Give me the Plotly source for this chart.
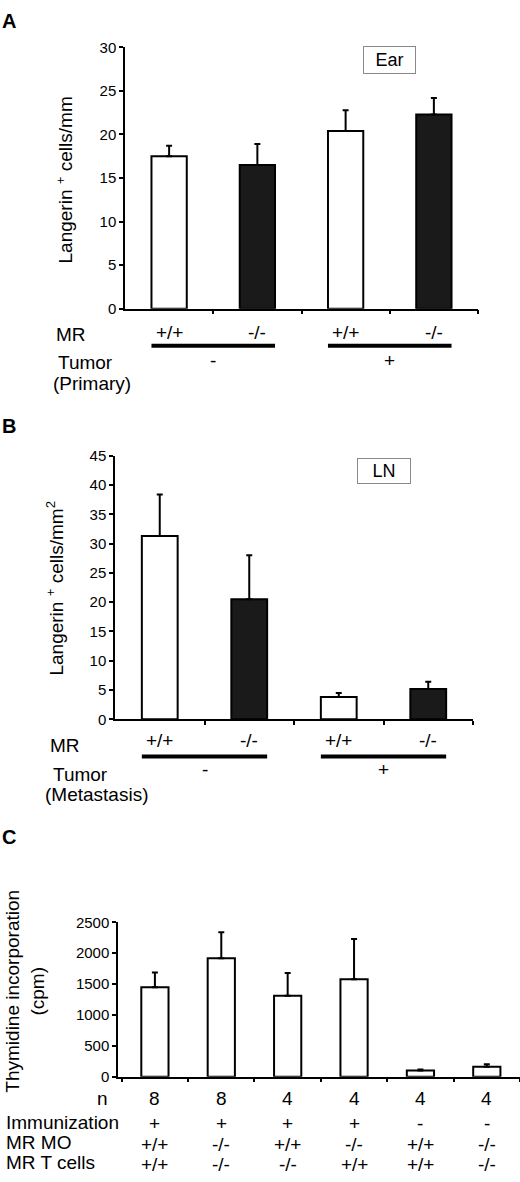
import plotly.graph_objects as go

W, H = 520, 1182
FONT = "Arial, Liberation Sans, sans-serif"

# ---- panel A: ear, primary tumor ----
a_mr = ["+/+", "-/-", "+/+", "-/-"]
a_tumor = ["-", "+"]
a_mean = [17.5, 16.5, 20.4, 22.3]
a_err = [1.2, 2.4, 2.4, 1.9]
a_ticks = [0, 5, 10, 15, 20, 25, 30]

# ---- panel B: lymph node, metastasis ----
b_mr = ["+/+", "-/-", "+/+", "-/-"]
b_tumor = ["-", "+"]
b_mean = [31.3, 20.5, 3.8, 5.2]
b_err = [7.1, 7.5, 0.7, 1.2]
b_ticks = [0, 5, 10, 15, 20, 25, 30, 35, 40, 45]

# ---- panel C: thymidine incorporation ----
c_n = ["8", "8", "4", "4", "4", "4"]
c_immun = ["+", "+", "+", "+", "-", "-"]
c_mo = ["+/+", "-/-", "+/+", "-/-", "+/+", "-/-"]
c_tcell = ["+/+", "-/-", "-/-", "+/+", "+/+", "-/-"]
c_mean = [1450, 1920, 1310, 1580, 100, 160]
c_err = [240, 420, 370, 650, 15, 40]
c_ticks = [0, 500, 1000, 1500, 2000, 2500]


def px(x):
    return x / W


def py(y):
    return 1 - y / H


def fills(geno):
    return ["#1a1a1a" if g == "-/-" else "white" for g in geno]


fig = go.Figure()

panels = [
    ("", a_mean, a_err, fills(a_mr)),
    ("2", b_mean, b_err, fills(b_mr)),
    ("3", c_mean, c_err, ["white"] * len(c_mean)),
]
for ax, mean, err, col in panels:
    fig.add_trace(go.Bar(
        x=list(range(len(mean))), y=mean, width=0.4 if ax != "3" else 0.41,
        marker=dict(color=col, line=dict(color="black", width=2)),
        error_y=dict(type="data", array=err, arrayminus=[0] * len(err), symmetric=False,
                     color="black", thickness=2, width=3),
        xaxis="x" + ax, yaxis="y" + ax, showlegend=False, hoverinfo="skip",
    ))

axis_common = dict(showgrid=False, zeroline=False, showline=True, linecolor="black",
                   linewidth=1.5, ticks="outside", ticklen=4, tickcolor="black", tickwidth=1.5)
tickfont = dict(family=FONT, size=15, color="black")

fig.update_layout(
    width=W, height=H, margin=dict(l=0, r=0, t=0, b=0),
    paper_bgcolor="white", plot_bgcolor="white",
    xaxis=dict(domain=[px(125), px(478)], range=[-0.5, 3.5], tickvals=[0.5, 1.5, 2.5, 3.5],
               showticklabels=False, anchor="y", **axis_common),
    yaxis=dict(domain=[py(304), py(39)], range=[0, 30], tickvals=a_ticks, tickfont=tickfont,
               anchor="x", **axis_common),
    xaxis2=dict(domain=[px(115), px(473)], range=[-0.5, 3.5], tickvals=[0.5, 1.5, 2.5, 3.5],
                showticklabels=False, anchor="y2", **axis_common),
    yaxis2=dict(domain=[py(720.7), py(453.3)], range=[0, 45], tickvals=b_ticks, tickfont=tickfont,
                anchor="x2", **axis_common),
    xaxis3=dict(domain=[px(118), 1.0], range=[-0.556, 5.5],
                tickvals=[-0.5, 0.5, 1.5, 2.5, 3.5, 4.5, 5.5],
                showticklabels=False, anchor="y3", **axis_common),
    yaxis3=dict(domain=[py(1083.3), py(926.7)], range=[0, 2500], tickvals=c_ticks, tickfont=tickfont,
                anchor="x3", **axis_common),
)

ann = []
shapes = []


def txt(text, x, y, size=19, xref="paper", xanchor="center", **kw):
    ann.append(dict(text=text, x=x, y=py(y), xref=xref, yref="paper", showarrow=False,
                    xanchor=xanchor, yanchor="middle",
                    font=dict(family=FONT, size=size, color="black"), **kw))


# panel letters
txt("<b>A</b>", 0, 12, size=20, xanchor="left")
txt("<b>B</b>", 0, 423, size=20, xanchor="left")
txt("<b>C</b>", 0, 840, size=20, xanchor="left")

# y titles
txt("Langerin <sup>+</sup> cells/mm", px(65), 174, textangle=-90)
txt("Langerin <sup>+</sup> cells/mm<sup>2</sup>", px(55), 588, textangle=-90)
txt("Thymidine incorporation<br>(cpm)", px(25), 997, size=19, textangle=-90)

# boxed labels
for label, yc, xr, bw, bh in [("Ear", 52, "x", 51, 26), ("LN", 469, "x2", 52, 24)]:
    ann.append(dict(text=label, x=2.5, y=py(yc), xref=xr, yref="paper", showarrow=False,
                    xanchor="center", yanchor="middle", width=bw, height=bh, borderpad=0,
                    bordercolor="#8a8a8a", borderwidth=1, bgcolor="white",
                    font=dict(family=FONT, size=18, color="black")))

# panel A categories
txt("MR", px(54), 330, xanchor="left")
for i, g in enumerate(a_mr):
    txt(g, i, 328, xref="x")
for k, t in enumerate(a_tumor):
    txt(t, 2 * k + 0.5, 357, xref="x")
    shapes.append(dict(type="line", xref="x", yref="paper", x0=2 * k - 0.2, x1=2 * k + 1.2,
                       y0=py(341.7), y1=py(341.7), line=dict(color="black", width=4)))
txt("Tumor", px(56), 359, xanchor="left")
txt("(Primary)", px(51), 380, xanchor="left")

# panel B categories
txt("MR", px(48), 747, xanchor="left")
for i, g in enumerate(b_mr):
    txt(g, i, 742, xref="x2")
for k, t in enumerate(b_tumor):
    txt(t, 2 * k + 0.5, 772, xref="x2")
    shapes.append(dict(type="line", xref="x2", yref="paper", x0=2 * k - 0.2, x1=2 * k + 1.2,
                       y0=py(758.3), y1=py(758.3), line=dict(color="black", width=4)))
txt("Tumor", px(51), 777, xanchor="left")
txt("(Metastasis)", px(43), 797, xanchor="left")

# panel C rows
txt("n", px(110), 1105, xanchor="right", size=19)
txt("Immunization", px(4), 1130, xanchor="left", size=19)
txt("MR MO", px(4), 1150, xanchor="left", size=19)
txt("MR T cells", px(4), 1170, xanchor="left", size=19)
for i in range(len(c_n)):
    txt(c_n[i], i, 1105, xref="x3", size=19)
    txt(c_immun[i], i, 1131, xref="x3", size=19)
    txt(c_mo[i], i, 1152, xref="x3", size=19)
    txt(c_tcell[i], i, 1172, xref="x3", size=19)

fig.update_layout(annotations=ann, shapes=shapes)

fig.write_html(
    "out.html",
    config={"displayModeBar": False},
    post_script="document.body.style.margin='0';document.body.style.overflow='hidden';",
)
